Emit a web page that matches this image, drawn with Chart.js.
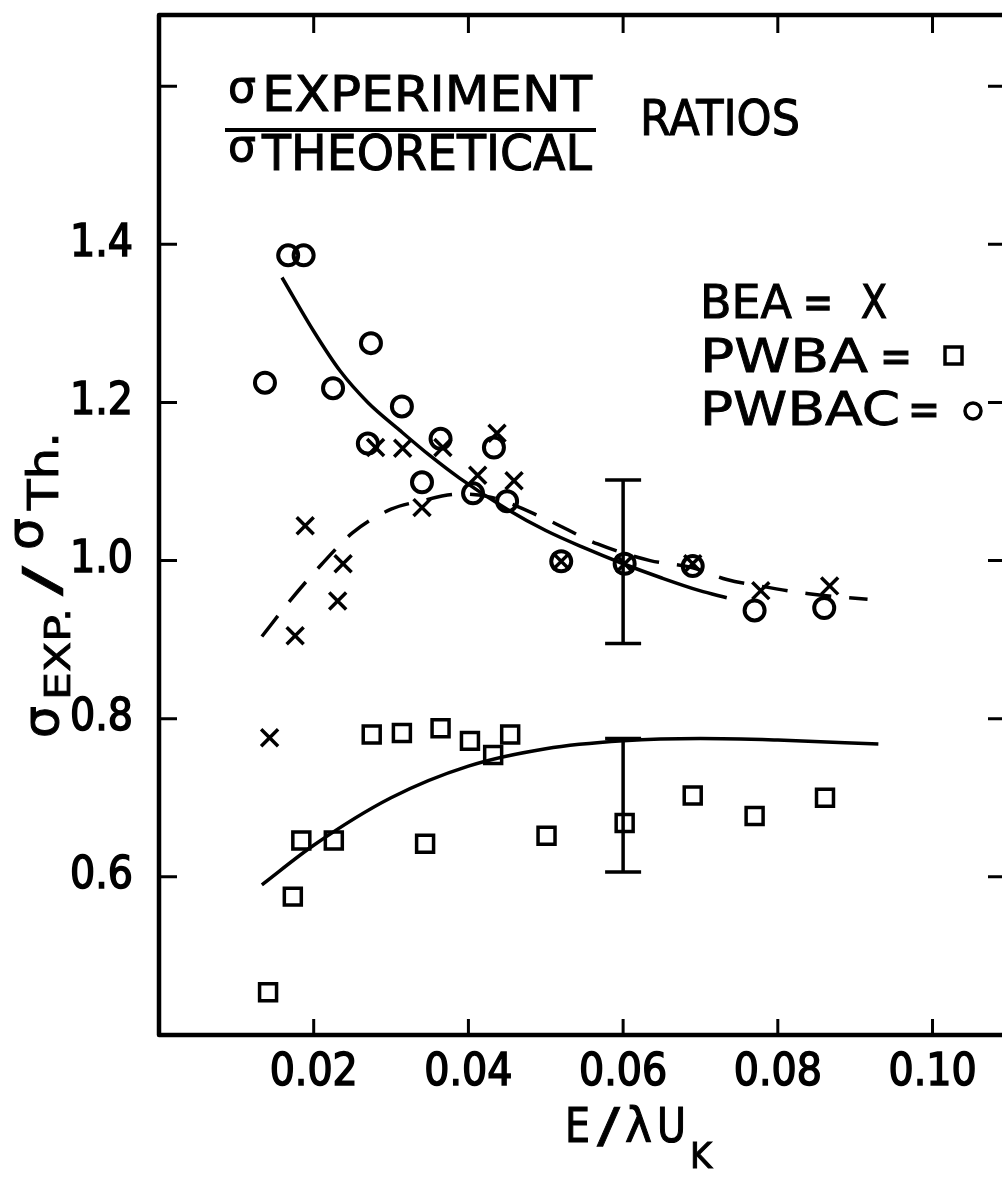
<!DOCTYPE html>
<html>
<head>
<meta charset="utf-8">
<script src="https://cdn.jsdelivr.net/npm/chart.js"></script>
<style>
  html, body { margin: 0; padding: 0; background: #fff; overflow: hidden; }
  #wrap { position: relative; width: 1012px; height: 1177px; }
</style>
</head>
<body>
<div id="wrap"><canvas id="c" width="1012" height="1177"></canvas></div>
<script>
'use strict';

/* ===== data ===== */

// PWBAC ratios (circles)
const pwbacX = [0.0137, 0.0167, 0.0187, 0.0225, 0.0270, 0.0274, 0.0314, 0.0340, 0.0364, 0.0406, 0.0433, 0.0450, 0.0520, 0.0602, 0.0690, 0.0770, 0.0860];
const pwbacY = [1.225, 1.386, 1.386, 1.218, 1.148, 1.275, 1.195, 1.099, 1.154, 1.085, 1.143, 1.075, 0.999, 0.996, 0.993, 0.937, 0.940];

// BEA ratios (crosses)
const beaX = [0.0143, 0.0176, 0.0189, 0.0231, 0.0238, 0.0280, 0.0315, 0.0340, 0.0367, 0.0412, 0.0437, 0.0459, 0.0520, 0.0602, 0.0690, 0.0778, 0.0867];
const beaY = [0.776, 0.905, 1.044, 0.949, 0.996, 1.143, 1.142, 1.067, 1.143, 1.108, 1.161, 1.101, 0.999, 0.996, 0.996, 0.962, 0.968];

// PWBA ratios (squares)
const pwbaX = [0.0141, 0.0173, 0.0184, 0.0226, 0.0275, 0.0314, 0.0364, 0.0402, 0.0432, 0.0454, 0.0344, 0.0501, 0.0602, 0.0690, 0.0770, 0.0861];
const pwbaY = [0.454, 0.575, 0.646, 0.646, 0.780, 0.782, 0.788, 0.772, 0.754, 0.780, 0.642, 0.652, 0.668, 0.703, 0.677, 0.700];

// smooth fitted curves
const fitPwbacX = [0.0159, 0.0200, 0.0234, 0.0270, 0.0311, 0.0350, 0.0389, 0.0450, 0.0500, 0.0550, 0.0600, 0.0650, 0.0699, 0.0734];
const fitPwbacY = [1.358, 1.290, 1.240, 1.200, 1.165, 1.133, 1.104, 1.065, 1.038, 1.016, 0.996, 0.978, 0.962, 0.953];

const fitBeaX = [0.0133, 0.0170, 0.0210, 0.0250, 0.0300, 0.0337, 0.0389, 0.0430, 0.0499, 0.0567, 0.0635, 0.0690, 0.0734, 0.0776, 0.0840, 0.0916];
const fitBeaY = [0.904, 0.950, 0.995, 1.035, 1.065, 1.075, 1.084, 1.080, 1.053, 1.021, 1.000, 0.991, 0.976, 0.968, 0.958, 0.951];

const fitPwbaX = [0.0133, 0.0200, 0.0300, 0.0400, 0.0500, 0.0600, 0.0700, 0.0800, 0.0930];
const fitPwbaY = [0.590, 0.640, 0.700, 0.740, 0.762, 0.772, 0.775, 0.773, 0.768];

// error bars at E/lambdaUk = 0.06
const errX = [0.060, 0.060];
const errLow = [0.895, 0.606];
const errHigh = [1.102, 0.775];

// axis ticks
const xTickValues = [0.02, 0.04, 0.06, 0.08, 0.10];
const xTickLabels = ['0.02', '0.04', '0.06', '0.08', '0.10'];
const yTickValues = [0.6, 0.8, 1.0, 1.2, 1.4, 1.6];
const yTickLabels = ['0.6', '0.8', '1.0', '1.2', '1.4', ''];

/* ===== helpers ===== */

function pts(xs, ys) {
  return xs.map((x, i) => ({ x, y: ys[i] }));
}

function labelFor(values, labels, v) {
  const i = values.findIndex(t => Math.abs(t - v) < 1e-6);
  return i < 0 ? '' : labels[i];
}

const FONT = "'DejaVu Sans Condensed', 'DejaVu Sans', sans-serif";
const LETTER = "'DejaVu Sans', sans-serif";
const INK = '#000';

// draw text stretched or squeezed horizontally so it spans x0..x1
function fitText(ctx, text, x0, x1, y, size) {
  ctx.font = `${size}px ${LETTER}`;
  const w = ctx.measureText(text).width;
  const sx = (x1 - x0) / w;
  ctx.save();
  ctx.translate(x0, y);
  ctx.scale(sx, 1);
  ctx.lineWidth = 1 / Math.max(sx, 0.5);
  ctx.fillText(text, 0, 0);
  ctx.strokeText(text, 0, 0);
  ctx.restore();
}

/* ===== frame + inward ticks ===== */

const framePlugin = {
  id: 'frame',
  afterDraw(chart) {
    const { ctx, chartArea: a, scales } = chart;
    ctx.save();
    ctx.strokeStyle = INK;
    ctx.lineWidth = 4.5;
    ctx.lineJoin = 'round';
    ctx.strokeRect(a.left, a.top, a.right - a.left, a.bottom - a.top);

    ctx.lineWidth = 3;
    xTickValues.forEach(v => {
      const px = scales.x.getPixelForValue(v);
      ctx.beginPath();
      ctx.moveTo(px, a.bottom); ctx.lineTo(px, a.bottom - 16);
      ctx.moveTo(px, a.top); ctx.lineTo(px, a.top + 18);
      ctx.stroke();
    });
    yTickValues.forEach(v => {
      const py = scales.y.getPixelForValue(v);
      ctx.beginPath();
      ctx.moveTo(a.left, py); ctx.lineTo(a.left + 18, py);
      ctx.moveTo(a.right, py); ctx.lineTo(a.right - 18, py);
      ctx.stroke();
    });
    ctx.restore();
  }
};

/* ===== error bars ===== */

const errorBarPlugin = {
  id: 'errorBars',
  afterDatasetsDraw(chart) {
    const { ctx, scales } = chart;
    ctx.save();
    ctx.strokeStyle = INK;
    ctx.lineWidth = 3.5;
    errX.forEach((x, i) => {
      const px = scales.x.getPixelForValue(x);
      const top = scales.y.getPixelForValue(errHigh[i]);
      const bot = scales.y.getPixelForValue(errLow[i]);
      ctx.beginPath();
      ctx.moveTo(px, top); ctx.lineTo(px, bot);
      ctx.moveTo(px - 18, top); ctx.lineTo(px + 18, top);
      ctx.moveTo(px - 18, bot); ctx.lineTo(px + 18, bot);
      ctx.stroke();
    });
    ctx.restore();
  }
};

/* ===== lettering: title, legend, axis titles ===== */

const letteringPlugin = {
  id: 'lettering',
  afterDraw(chart) {
    const { ctx } = chart;
    ctx.save();
    ctx.fillStyle = INK;
    ctx.strokeStyle = INK;
    ctx.textBaseline = 'alphabetic';
    ctx.textAlign = 'left';

    // fraction block
    fitText(ctx, '\u03c3', 228, 256, 102, 44);
    fitText(ctx, 'EXPERIMENT', 262, 592, 111, 50);
    fitText(ctx, '\u03c3', 228, 256, 161, 44);
    fitText(ctx, 'THEORETICAL', 262, 592, 170, 50);
    ctx.lineWidth = 4;
    ctx.beginPath();
    ctx.moveTo(225, 130); ctx.lineTo(596, 130);
    ctx.stroke();

    fitText(ctx, 'RATIOS', 640, 800, 135, 50);

    // legend
    fitText(ctx, 'BEA', 700, 792, 318, 47);
    fitText(ctx, '=', 803, 833, 318, 47);
    fitText(ctx, 'X', 861, 887, 318, 47);
    fitText(ctx, 'PWBA', 700, 868, 372, 47);
    fitText(ctx, '=', 880, 912, 372, 47);
    fitText(ctx, 'PWBAC', 700, 900, 425, 47);
    fitText(ctx, '=', 908, 940, 425, 47);
    ctx.lineWidth = 3.5;
    ctx.strokeRect(945, 347, 17, 17);
    ctx.beginPath();
    ctx.arc(973, 411, 8, 0, Math.PI * 2);
    ctx.stroke();

    // x axis title
    fitText(ctx, 'E', 565, 590, 1142, 48);
    fitText(ctx, '/', 597, 620, 1142, 48);
    fitText(ctx, '\u03bb', 625, 652, 1142, 48);
    fitText(ctx, 'U', 657, 686, 1142, 48);
    fitText(ctx, 'K', 690, 712, 1168, 36);

    // y axis title (rotated, reading upward)
    ctx.rotate(-Math.PI / 2);
    fitText(ctx, '\u03c3', -738, -706, 58, 50);
    fitText(ctx, 'EXP.', -700, -608, 70, 36);
    fitText(ctx, '/', -596, -566, 58, 50);
    fitText(ctx, '\u03c3', -550, -518, 42, 50);
    fitText(ctx, 'Th.', -510, -432, 58, 42);
    ctx.restore();
  }
};

/* ===== chart ===== */

const pointBase = {
  showLine: false,
  borderColor: INK,
  backgroundColor: 'rgba(0,0,0,0)',
  borderWidth: 3.5
};

const tickFont = { family: FONT, size: 44 };

new Chart(document.getElementById('c'), {
  type: 'scatter',
  plugins: [framePlugin, errorBarPlugin, letteringPlugin],
  data: {
    datasets: [
      {
        label: 'PWBAC fit',
        data: pts(fitPwbacX, fitPwbacY),
        showLine: true,
        borderColor: INK,
        borderWidth: 3.5,
        pointRadius: 0,
        cubicInterpolationMode: 'monotone'
      },
      {
        label: 'BEA fit',
        data: pts(fitBeaX, fitBeaY),
        showLine: true,
        borderColor: INK,
        borderWidth: 3.5,
        borderDash: [26, 18],
        pointRadius: 0,
        cubicInterpolationMode: 'monotone'
      },
      {
        label: 'PWBA fit',
        data: pts(fitPwbaX, fitPwbaY),
        showLine: true,
        borderColor: INK,
        borderWidth: 3.5,
        pointRadius: 0,
        cubicInterpolationMode: 'monotone'
      },
      Object.assign({}, pointBase, {
        label: 'PWBAC',
        data: pts(pwbacX, pwbacY),
        pointStyle: 'circle',
        pointRadius: 10,
        borderWidth: 4
      }),
      Object.assign({}, pointBase, {
        label: 'BEA',
        data: pts(beaX, beaY),
        pointStyle: 'crossRot',
        pointRadius: 12
      }),
      Object.assign({}, pointBase, {
        label: 'PWBA',
        data: pts(pwbaX, pwbaY),
        pointStyle: 'rect',
        pointRadius: 12,
        borderWidth: 3.5
      })
    ]
  },
  options: {
    responsive: false,
    animation: false,
    devicePixelRatio: 1,
    layout: { autoPadding: false, padding: { top: 15, right: 6, left: 0, bottom: 0 } },
    plugins: {
      legend: { display: false },
      tooltip: { enabled: false }
    },
    scales: {
      x: {
        type: 'linear',
        min: 0,
        max: 0.1095,
        grid: { display: false },
        border: { display: false },
        ticks: {
          stepSize: 0.02,
          includeBounds: false,
          autoSkip: false,
          maxRotation: 0,
          padding: 4,
          color: INK,
          textStrokeColor: INK,
          textStrokeWidth: 1.5,
          font: tickFont,
          callback: v => labelFor(xTickValues, xTickLabels, v)
        },
        afterFit: s => {
          s.height = 142;
          s.paddingLeft = 0; s.paddingRight = 0;
        }
      },
      y: {
        type: 'linear',
        min: 0.4,
        max: 1.69,
        grid: { display: false },
        border: { display: false },
        ticks: {
          stepSize: 0.2,
          includeBounds: false,
          autoSkip: false,
          padding: 18,
          color: INK,
          textStrokeColor: INK,
          textStrokeWidth: 1.5,
          font: tickFont,
          callback: v => labelFor(yTickValues, yTickLabels, v)
        },
        afterFit: s => {
          s.width = 159;
          s.paddingTop = 0; s.paddingBottom = 0;
        }
      }
    }
  }
});
</script>
</body>
</html>
